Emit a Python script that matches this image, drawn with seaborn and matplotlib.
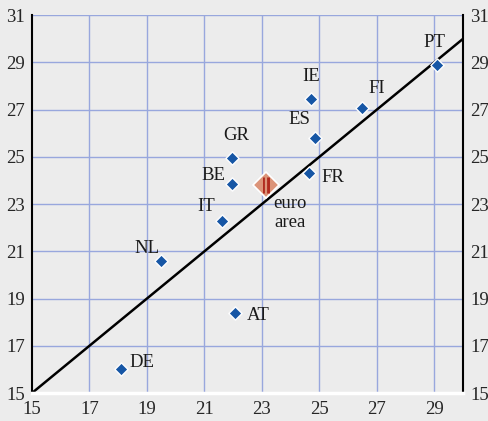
import matplotlib
matplotlib.use("Agg")
import matplotlib.pyplot as plt
import seaborn as sns
import pandas as pd

# values
countries = ["PT", "IE", "FI", "ES", "GR", "BE", "FR", "IT", "NL", "AT", "DE"]
x_vals = [29.1, 24.7, 26.5, 24.85, 21.95, 21.95, 24.65, 21.6, 19.5, 22.05, 18.1]
y_vals = [28.9, 27.45, 27.05, 25.8, 24.95, 23.85, 24.3, 22.3, 20.6, 18.4, 16.0]
euro_x, euro_y = 23.15, 23.8
ticks_x = [15, 17, 19, 21, 23, 25, 27, 29]
ticks_y = [15, 17, 19, 21, 23, 25, 27, 29, 31]

# label offsets in points (text position relative to marker)
label_offsets = {
    "PT": (-2, 16), "IE": (0, 16), "FI": (10, 14), "ES": (-11, 13),
    "GR": (3, 16), "BE": (-13, 6), "FR": (17, -3), "IT": (-11, 10),
    "NL": (-10, 9), "AT": (17, -2), "DE": (15, 5),
}

df = pd.DataFrame({"country": countries, "x": x_vals, "y": y_vals})

sns.set_style("white")
plt.rcParams["font.family"] = ["Liberation Serif", "DejaVu Serif"]
bg = "#ececec"
grid_c = "#98a7dd"
fs = 13.5

fig = plt.figure(figsize=(4.89, 4.21), dpi=100, facecolor=bg)
ax = fig.add_axes([0.0654, 0.0665, 0.8816, 0.8975])
ax.set_facecolor(bg)

ax.set_xlim(15, 30)
ax.set_ylim(15, 31)
ax.set_xticks(ticks_x)
ax.set_yticks(ticks_y)
for t in ticks_x[1:]:
    ax.axvline(t, color=grid_c, lw=1, zorder=0)
for t in ticks_y[1:]:
    ax.axhline(t, color=grid_c, lw=1, zorder=0)

# 45 degree line
ax.plot([15, 30], [15, 30], color="black", lw=1.8, zorder=2)

sns.scatterplot(data=df, x="x", y="y", marker="D", s=45, color="#1656a5",
                edgecolor="white", linewidth=1, ax=ax, zorder=3, legend=False)

# euro area marker
ax.plot(euro_x, euro_y, marker="D", ms=13.5, mfc="#dc9479", mec="white", mew=1.2, zorder=4)
ax.plot(euro_x, euro_y, marker="|", ms=12, mec="#b02a1e", mew=5, zorder=5)
ax.plot(euro_x, euro_y, marker="|", ms=13, mec="#dc9479", mew=1.6, zorder=6)

for c, xv, yv in zip(countries, x_vals, y_vals):
    dx, dy = label_offsets[c]
    ax.annotate(c, (xv, yv), xytext=(dx, dy), textcoords="offset points",
                ha="center", va="center", fontsize=fs, color="#1a1a1a", zorder=7)
ax.annotate("euro\narea", (euro_x, euro_y), xytext=(17, -20), textcoords="offset points",
            ha="center", va="center", fontsize=fs, color="#1a1a1a", linespacing=1.2, zorder=7)

ax.set_xlabel("")
ax.set_ylabel("")
ax.tick_params(axis="x", direction="out", length=5, width=1.5, color="black",
               labelsize=fs, pad=1)
ax.tick_params(axis="y", length=0, labelsize=fs, left=False, right=False,
               labelleft=True, labelright=True, pad=5)

for side in ["left", "right"]:
    ax.spines[side].set_color("black")
    ax.spines[side].set_linewidth(1.5)
ax.spines["top"].set_visible(False)
ax.spines["bottom"].set_color("white")
ax.spines["bottom"].set_linewidth(2.5)

fig.savefig("out.png", dpi=100, facecolor=bg)
